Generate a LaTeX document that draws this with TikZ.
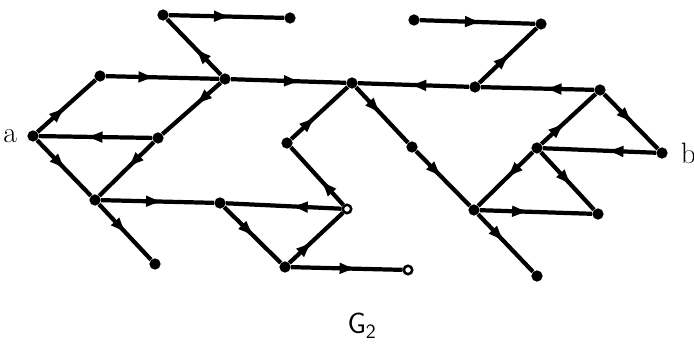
\documentclass[tikz,border=0pt]{standalone}
\usepackage{tikz}
\usetikzlibrary{positioning,arrows.meta,decorations.markings}

\begin{document}
\begin{tikzpicture}[x=0.025cm, y=-0.025cm,
  dot/.style={circle, fill=black, inner sep=0pt, minimum size=8pt},
  hol/.style={circle, draw=black, fill=white, line width=1.8pt, inner sep=0pt, minimum size=6pt},
  lab/.style={inner sep=0pt, font=\fontsize{21}{24}\selectfont},
  edge/.style={line width=3pt},
  fw/.style={edge, postaction={decorate}, decoration={markings, mark=at position #1 with {\arrow{Latex[length=13pt, width=8.5pt]}}}},
  fw/.default=0.5]
\useasboundingbox (0,0) rectangle (694,352);
\node[dot] (a)  at (33,136) {};
\node[dot] (u1) at (100,76) {};
\node[dot] (m1) at (158,138) {};
\node[dot] (l1) at (95,200) {};
\node[dot] (ll) at (155,264) {};
\node[dot] (t1) at (163,15) {};
\node[dot] (t2) at (290,18) {};
\node[dot] (c1) at (225,79) {};
\node[dot] (c2) at (352,83) {};
\node[dot] (z1) at (287,143) {};
\node[hol] (z2) at (347,209) {};
\node[dot] (mb) at (220,203) {};
\node[dot] (bb) at (285,267) {};
\node[hol] (be) at (408,270) {};
\node[dot] (m2) at (412,147) {};
\node[dot] (r1) at (475,87) {};
\node[dot] (t3) at (414,20) {};
\node[dot] (t4) at (541,24) {};
\node[dot] (r2) at (600,90) {};
\node[dot] (b)  at (662,153) {};
\node[dot] (r3) at (537,148) {};
\node[dot] (r4) at (598,214) {};
\node[dot] (r5) at (474,210) {};
\node[dot] (r6) at (537,276) {};
\node[lab, left=7pt of a] (la) {a};
\node[lab, right=9pt of b] (lb) {b};
\node[lab, font=\fontsize{22}{26}\selectfont] (g2) at (362,326) {$\mathsf{G}_{\mathsf{2}}$};

\draw[fw] (a) -- (u1);
\draw[fw=0.45] (u1) -- (c1);
\draw[fw=0.5] (c1) -- (t1);
\draw[fw=0.55] (t1) -- (t2);
\draw[fw=0.62] (c1) -- (c2);
\draw[fw=0.45] (c1) -- (m1);
\draw[fw=0.6] (m1) -- (a);
\draw[fw=0.5] (m1) -- (l1);
\draw[fw=0.55] (a) -- (l1);
\draw[fw=0.55] (l1) -- (ll);
\draw[fw=0.56] (l1) -- (mb);
\draw[fw=0.45] (z2) -- (mb);
\draw[fw=0.55] (mb) -- (bb);
\draw[fw=0.45] (bb) -- (z2);
\draw[fw=0.6] (bb) -- (be);
\draw[fw=0.45] (z2) -- (z1);
\draw[fw=0.45] (z1) -- (c2);
\draw[fw=0.5] (c2) -- (m2);
\draw[fw=0.5] (m2) -- (r5);
\draw[fw=0.55] (r1) -- (c2);
\draw[fw=0.45] (r2) -- (r1);
\draw[fw=0.55] (r1) -- (t4);
\draw[fw=0.55] (t3) -- (t4);
\draw[fw=0.55] (r2) -- (b);
\draw[fw=0.45] (b) -- (r3);
\draw[fw=0.45] (r3) -- (r2);
\draw[fw=0.5] (r3) -- (r5);
\draw[fw=0.6] (r3) -- (r4);
\draw[fw=0.45] (r5) -- (r4);
\draw[fw=0.5] (r5) -- (r6);
\end{tikzpicture}
\end{document}
